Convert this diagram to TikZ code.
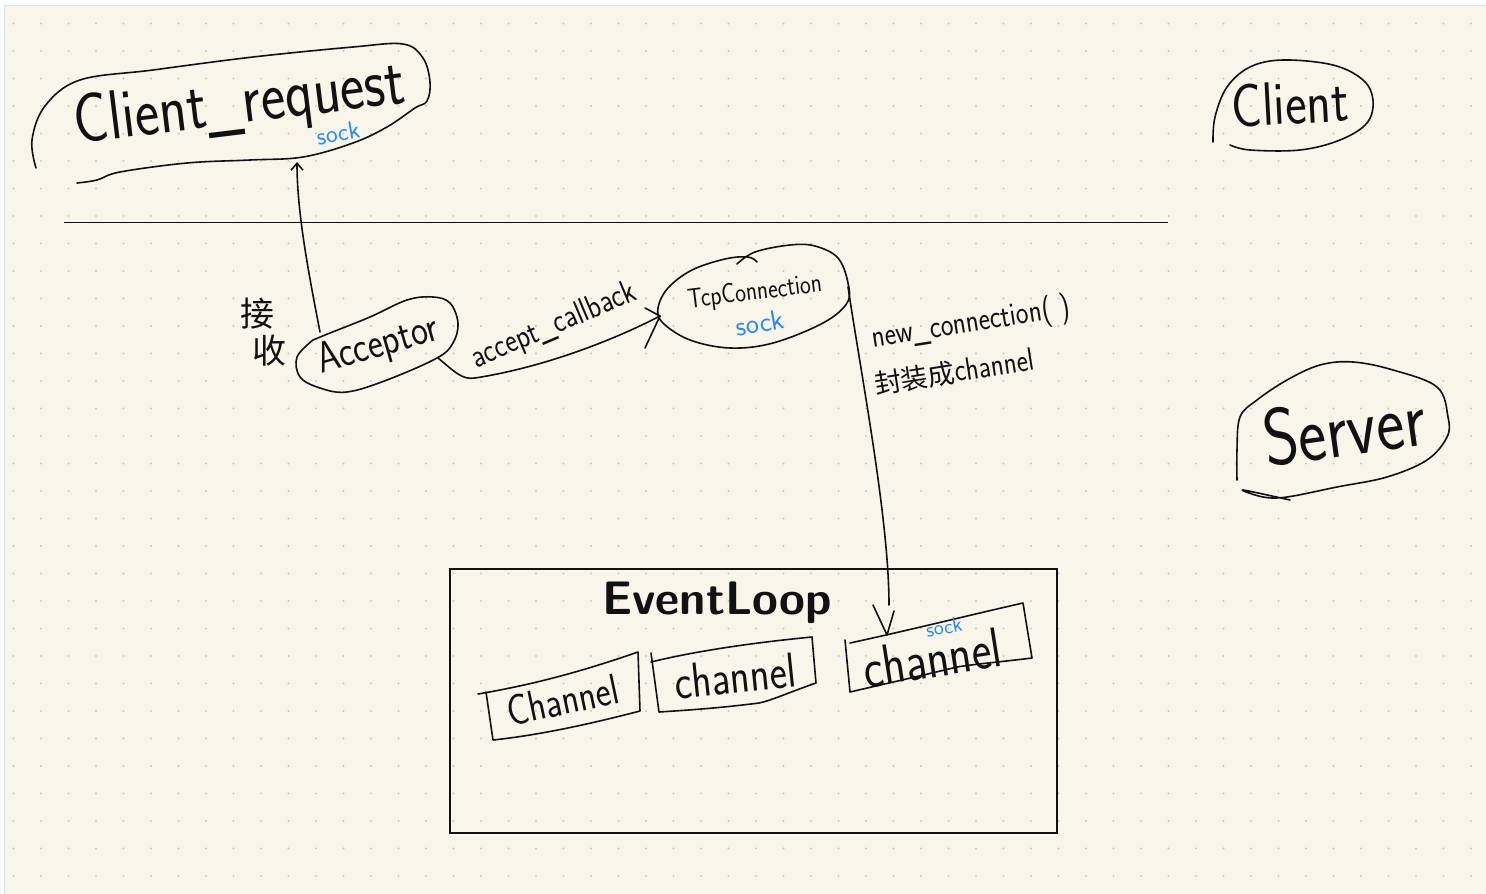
\documentclass[tikz,border=0pt]{standalone}
\usepackage{fontspec}
\newfontfamily\cjk{Noto Sans CJK SC}
\usetikzlibrary{arrows.meta}
\definecolor{cream}{HTML}{F8F6EA}
\definecolor{dotc}{HTML}{CBC9C0}
\definecolor{ink}{HTML}{111111}
\definecolor{sockblue}{HTML}{2A8AF0}
\tikzset{
  stroke/.style={draw=ink, line width=1.6pt, line cap=round, line join=round},
  hand/.style={font=\sffamily, text=ink, inner sep=0pt},
  sockt/.style={font=\sffamily, text=sockblue, inner sep=0pt},
}
\newcommand{\fs}[1]{\fontsize{#1}{#1}\selectfont}
\newcommand{\tall}[1]{\scalebox{1}[1.2]{#1}}
\begin{document}
\begin{tikzpicture}[x=1pt,y=-1pt]
\useasboundingbox (0,0) rectangle (1486,894);
\fill[white] (0,0) rectangle (1486,894);
\fill[cream] (4,5) rectangle (1486,894);
\draw[gray!25, line width=0.6pt] (4,894) -- (4,5) -- (1486,5);
\foreach \i in {0,...,53} {
  \foreach \j in {0,...,32} {
    \fill[dotc] (13.5+27.5*\i, 23.5+27.5*\j) circle[radius=1.2pt];
  }
}
% divider
\draw[ink, line width=1.3pt] (64,222.5) -- (1168,222.5);

% ---------- Client_request ----------
\draw[stroke] plot[smooth, tension=0.6] coordinates {(36,168) (32,140) (45,106) (80,80) (153,70) (253,57) (353,47) (403,44) (423,58) (430,82) (427,101) (415,108) (387,127) (353,143) (303,157) (250,160) (187,163) (120,172) (97,180) (77,183)};
\node[hand, rotate=7] (creq) at (240,106) {\fs{58}\tall{Client\_request}};
\node[sockt, rotate=10] (creqsock) at (338,133) {\fs{25}sock};
\coordinate (creqB) at (297,162);

% ---------- Client ----------
\draw[stroke] plot[smooth, tension=0.6] coordinates {(1213,142) (1215,117) (1227,87) (1250,67) (1283,60) (1333,65) (1363,80) (1373,100) (1367,123) (1340,140) (1300,150) (1250,150) (1230,145)};
\node[hand, rotate=3] (client) at (1290,103) {\fs{51}\tall{Client}};

% ---------- Server ----------
\draw[stroke] plot[smooth, tension=0.6] coordinates {(1237,480) (1237,450) (1240,417) (1257,400) (1287,380) (1320,365) (1353,362) (1393,370) (1437,387) (1448,417) (1447,437) (1427,460) (1387,477) (1337,487) (1287,497) (1263,497) (1243,490) (1290,500)};
\node[hand, rotate=8] (server) at (1344,428) {\fs{67}\tall{Server}};

% ---------- Acceptor ----------
\draw[stroke] plot[smooth, tension=0.6] coordinates {(313,340) (297,357) (300,377) (320,388) (347,392) (387,380) (437,358) (453,343) (458,323) (450,303) (433,297) (407,300) (370,317) (330,333) (313,340)};
\node[hand, rotate=16] (acc) at (378,346) {\fs{36}\tall{Acceptor}};
\node[hand] (jie) at (257,314) {\fs{34}\cjk 接};
\node[hand] (shou) at (269,351) {\fs{34}\cjk 收};
\coordinate (accTop) at (320,332);
\coordinate (accR) at (438,358);

% ---------- TcpConnection ----------
\draw[stroke] plot[smooth, tension=0.6] coordinates {(737,264) (755,252) (790,245) (815,246) (838,258) (848,283) (847,303) (823,323) (773,343) (730,348) (690,340) (663,323) (658,308) (668,288) (692,270) (725,259) (748,257) (757,262)};
\node[hand, rotate=7] (tcp) at (755,293) {\fs{23}\tall{TcpConnection}};
\node[sockt, rotate=10] (tcpsock) at (760,323) {\fs{28}sock};
\coordinate (tcpL) at (660,316);
\coordinate (tcpR) at (848,287);

% ---------- connectors ----------
\draw[stroke, -{Straight Barb[length=7pt,width=12pt]}] (accTop) .. controls (310,280) and (297,215) .. (creqB);
\draw[stroke] (accR) .. controls (455,372) and (462,380) .. (475,378) .. controls (540,368) and (610,342) .. (tcpL);
\draw[stroke] (tcpL) -- ++(-15,-8);
\draw[stroke] (tcpL) -- ++(-15,32);
\node[hand, rotate=23] (acb) at (554,326) {\fs{28}\tall{accept\_callback}};

\coordinate (ch3T) at (889,605);
\coordinate (ch3tip) at (887,635);
\draw[stroke] (tcpR) .. controls (862,380) and (889,520) .. (ch3T);
\draw[stroke] (873,605) -- (ch3tip) -- (894,611);
\node[hand, rotate=9] (newc) at (971,324) {\fs{27}\tall{new\_connection( )}};
\node[hand, rotate=9] (wrap) at (954,372) {\fs{27}{\cjk 封装成}\tall{channel}};

% ---------- EventLoop ----------
\draw[ink, line width=1.3pt] (450,569) rectangle (1057,833);
\node[hand] (el) at (717,603) {\fs{47}\bfseries EventLoop};

% channel 1
\draw[stroke] (478,694) .. controls (537,684) and (586,670) .. (638,652) -- (640,711) .. controls (590,724) and (540,735) .. (493,740) -- (486,692);
\node[hand, rotate=12] (ch1) at (563,700) {\fs{36}\tall{Channel}};
% channel 2
\draw[stroke] (651,662) .. controls (700,650) and (760,642) .. (812,637) -- (816,683) .. controls (790,692) and (770,701) .. (759,703) .. controls (720,708) and (690,710) .. (659,712) -- (651,653);
\node[hand, rotate=6] (ch2) at (735,676) {\fs{41}\tall{channel}};
% channel 3
\draw[stroke] (850,643) .. controls (910,630) and (970,615) .. (1023,603) -- (1032,658) .. controls (1000,662) and (975,664) .. (957,667) .. controls (920,676) and (880,685) .. (850,692) -- (845,640);
\node[hand, rotate=9] (ch3) at (932,658) {\fs{47}\tall{channel}};
\node[sockt, rotate=10] (ch3sock) at (944,627) {\fs{21}sock};
\end{tikzpicture}
\end{document}
